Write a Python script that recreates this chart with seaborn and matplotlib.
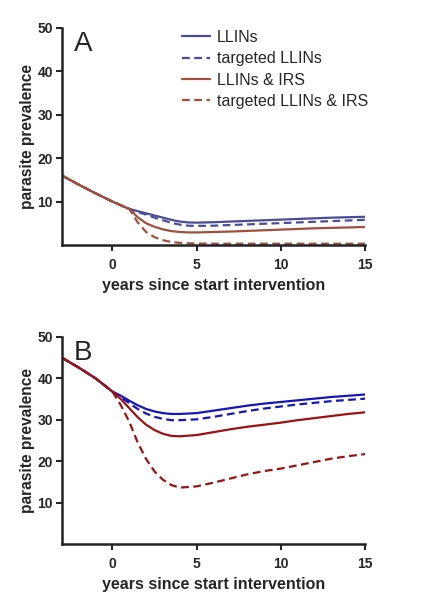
import matplotlib
matplotlib.use("Agg")
import matplotlib.pyplot as plt
import numpy as np
import pandas as pd
import seaborn as sns

# series names
series = ["LLINs", "targeted LLINs", "LLINs & IRS", "targeted LLINs & IRS"]

# panel A
years_a = [-3, -2, -1, 0, 1, 1.5, 2, 2.5, 3, 3.5, 4, 4.5, 5, 6, 7, 8, 9, 10, 11, 12, 13, 14, 15]
pre_a = [16.0, 13.9, 11.9, 10.0]
llins_a = [8.3, 7.8, 7.3, 6.8, 6.3, 5.8, 5.4, 5.2, 5.15, 5.25, 5.4, 5.55, 5.7, 5.85, 6.0, 6.15, 6.3, 6.4, 6.5]
tllins_a = [8.3, 7.6, 7.0, 6.3, 5.7, 5.1, 4.7, 4.45, 4.4, 4.45, 4.6, 4.75, 4.9, 5.05, 5.2, 5.35, 5.5, 5.65, 5.8]
irs_a = [8.3, 6.4, 5.0, 4.2, 3.6, 3.2, 3.0, 2.9, 2.9, 3.0, 3.1, 3.25, 3.4, 3.55, 3.7, 3.85, 3.95, 4.05, 4.15]
tirs_a = [8.3, 5.2, 3.0, 1.8, 1.1, 0.7, 0.5, 0.4, 0.35, 0.3, 0.3, 0.3, 0.3, 0.3, 0.3, 0.3, 0.3, 0.3, 0.3]

# panel B
years_b = [-3, -2, -1, 0, 0.5, 1, 1.5, 2, 2.5, 3, 3.5, 4, 5, 6, 7, 8, 9, 10, 11, 12, 13, 14, 15]
pre_b = [45.0, 42.6, 40.0]
llins_b = [36.8, 35.8, 34.6, 33.5, 32.6, 32.0, 31.6, 31.4, 31.4, 31.6, 32.2, 32.8, 33.4, 33.9, 34.3, 34.7, 35.1, 35.5, 35.8, 36.1]
tllins_b = [36.8, 35.5, 34.0, 32.6, 31.5, 30.7, 30.2, 29.9, 29.9, 30.1, 30.7, 31.4, 32.1, 32.7, 33.2, 33.7, 34.1, 34.5, 34.8, 35.1]
irs_b = [36.8, 35.0, 32.8, 30.6, 28.8, 27.5, 26.6, 26.1, 26.0, 26.3, 27.0, 27.7, 28.3, 28.8, 29.3, 29.9, 30.4, 30.9, 31.4, 31.8]
tirs_b = [36.8, 33.5, 29.5, 24.5, 20.5, 17.5, 15.5, 14.2, 13.6, 13.9, 14.8, 15.8, 16.8, 17.6, 18.2, 19.0, 19.8, 20.6, 21.2, 21.7]

yticks = [10, 20, 30, 40, 50]
xticks = [0, 5, 10, 15]


def make_df(years, pre, curves):
    rows = []
    for name, vals in zip(series, curves):
        ys = pre + vals
        for x, y in zip(years, ys):
            rows.append({"year": x, "prev": y, "series": name})
    return pd.DataFrame(rows)


df_a = make_df(years_a, pre_a, [llins_a, tllins_a, irs_a, tirs_a])
df_b = make_df(years_b, pre_b, [llins_b, tllins_b, irs_b, tirs_b])

sns.set_style("ticks")
plt.rcParams["font.family"] = ["Liberation Sans", "DejaVu Sans"]

fig = plt.figure(figsize=(4.27, 6.05), dpi=100)
ax_a = fig.add_axes([0.145, 0.595, 0.71, 0.359])
ax_b = fig.add_axes([0.145, 0.101, 0.71, 0.342])

dash_map = {series[0]: "", series[1]: (3.5, 2), series[2]: "", series[3]: (3.5, 2)}
pal_a = {series[0]: "#4b4c96", series[1]: "#4b4c96", series[2]: "#a0503c", series[3]: "#a0503c"}
pal_b = {series[0]: "#1616b8", series[1]: "#1616b8", series[2]: "#9c1212", series[3]: "#9c1212"}

for ax, df, pal, letter in [(ax_a, df_a, pal_a, "A"), (ax_b, df_b, pal_b, "B")]:
    sns.lineplot(data=df, x="year", y="prev", hue="series", style="series",
                 hue_order=series, style_order=series, palette=pal, dashes=dash_map,
                 linewidth=1.6, legend=False, ax=ax)
    ax.set_xlim(-3, 15)
    ax.set_ylim(0, 50)
    ax.set_xticks(xticks)
    ax.set_yticks(yticks)
    ax.set_xlabel("years since start intervention", fontsize=11.5, fontweight="bold", labelpad=4)
    ax.set_ylabel("parasite prevalence", fontsize=11.2, fontweight="bold", labelpad=2)
    ax.tick_params(width=1.5, length=4.5, labelsize=10)
    ax.tick_params(axis="x", pad=5)
    ax.tick_params(axis="y", pad=2)
    for lab in ax.get_xticklabels() + ax.get_yticklabels():
        lab.set_fontweight("bold")
    sns.despine(ax=ax)
    for s in ["left", "bottom"]:
        ax.spines[s].set_linewidth(1.8)
        ax.spines[s].set_color("#222222")
    ax.text(0.04, 0.985, letter, transform=ax.transAxes, fontsize=20, va="top", ha="left")

ax_a.legend(ax_a.lines[:4], series, loc="upper left", bbox_to_anchor=(0.376, 1.02),
            frameon=False, fontsize=11.5, handlelength=1.75, handletextpad=0.4,
            labelspacing=0.4, borderaxespad=0)

fig.savefig("out.png", dpi=100)
